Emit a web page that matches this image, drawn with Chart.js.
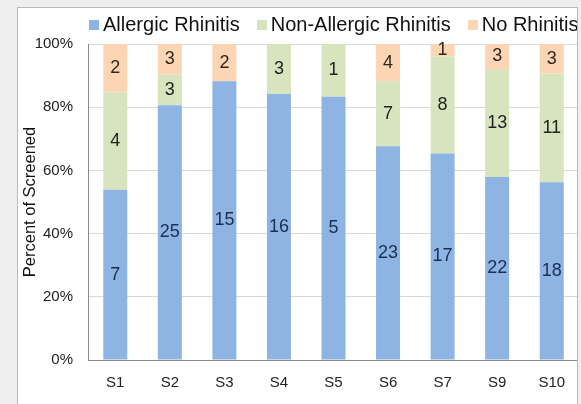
<!DOCTYPE html>
<html>
<head>
<meta charset="utf-8">
<script src="https://cdn.jsdelivr.net/npm/chart.js@4.4.0/dist/chart.umd.min.js"></script>
<style>
    html, body { margin: 0; padding: 0; }
    body { width: 581px; height: 404px; background: #efefef; position: relative; overflow: hidden; font-family: "Liberation Sans", Arial, sans-serif; }
    #panel { position: absolute; left: 17px; top: 7px; width: 559px; height: 420px; background: #fff; border: 1px solid #b9b9b9; overflow: hidden; }
    #chartWrap { position: absolute; left: -18px; top: -8px; width: 600px; height: 404px; }
    #legend { position: absolute; left: 71px; top: 5px; display: flex; align-items: center; white-space: nowrap; font-size: 20px; color: #111; }
    #legend .item { display: flex; align-items: center; margin-right: 17px; }
    #legend .box { width: 10px; height: 10px; margin-right: 4px; margin-top: 1px; }
</style>
</head>
<body>
<div id="panel">
    <div id="chartWrap">
        <canvas id="rhinitisChart" width="600" height="404"></canvas>
    </div>
    <div id="legend"></div>
</div>
<script>
// 데이터
var sites = ['S1', 'S2', 'S3', 'S4', 'S5', 'S6', 'S7', 'S9', 'S10'];
var allergic = [7, 25, 15, 16, 5, 23, 17, 22, 18];
var nonAllergic = [4, 3, 0, 3, 1, 7, 8, 13, 11];
var noRhinitis = [2, 3, 2, 0, 0, 4, 1, 3, 3];
var seriesNames = ['Allergic Rhinitis', 'Non-Allergic Rhinitis', 'No Rhinitis'];
var yTicks = [0, 20, 40, 60, 80, 100];

document.addEventListener("DOMContentLoaded", function() {
    var colors = ['#8db4e2', '#d7e4bd', '#fcd5b5'];
    var labelColors = ['#1b2f52', '#222222', '#33261c'];
    var counts = [allergic, nonAllergic, noRhinitis];

    // 합계 대비 퍼센트
    var totals = sites.map((s, i) => allergic[i] + nonAllergic[i] + noRhinitis[i]);
    var toPct = arr => arr.map((v, i) => v / totals[i] * 100);

    // 막대 안 숫자 표시
    var countLabels = {
        id: 'countLabels',
        afterDatasetsDraw: function(chart) {
            var ctx = chart.ctx;
            ctx.save();
            ctx.font = '18px "Liberation Sans", Arial, sans-serif';
            ctx.textAlign = 'center';
            ctx.textBaseline = 'middle';
            chart.data.datasets.forEach((ds, di) => {
                chart.getDatasetMeta(di).data.forEach((bar, i) => {
                    var n = ds.counts[i];
                    if (!n) return;
                    var c = bar.getCenterPoint();
                    ctx.fillStyle = labelColors[di];
                    ctx.fillText(n, c.x, c.y);
                });
            });
            ctx.restore();
        }
    };

    var ctx = document.getElementById('rhinitisChart').getContext('2d');
    var chart = new Chart(ctx, {
        type: 'bar',
        data: {
            labels: sites,
            datasets: counts.map((arr, k) => ({
                label: seriesNames[k],
                data: toPct(arr),
                counts: arr,
                backgroundColor: colors[k],
                barPercentage: 0.44,
                categoryPercentage: 1.0
            }))
        },
        options: {
            responsive: false,
            animation: false,
            devicePixelRatio: 1,
            layout: { padding: { left: 0, right: 21, top: 44, bottom: 0 } },
            scales: {
                x: {
                    stacked: true,
                    grid: { display: false },
                    border: { color: '#8a8a8a', width: 1 },
                    ticks: { color: '#222', font: { size: 15, family: '"Liberation Sans", Arial' }, padding: 6 },
                    afterFit: function(scale) { scale.height = 44; }
                },
                y: {
                    stacked: true,
                    min: 0,
                    max: 100,
                    afterBuildTicks: function(scale) { scale.ticks = yTicks.map(v => ({ value: v })); },
                    grid: { color: '#d9d9d9', drawTicks: false },
                    border: { color: '#8a8a8a', width: 1 },
                    ticks: {
                        color: '#222',
                        font: { size: 15, family: '"Liberation Sans", Arial' },
                        padding: 15,
                        callback: function(value) { return value + '%'; }
                    },
                    title: {
                        display: true,
                        text: 'Percent of Screened',
                        color: '#111',
                        font: { size: 16.5, family: '"Liberation Sans", Arial' },
                        padding: { top: 21, bottom: 0 }
                    },
                    afterFit: function(scale) { scale.width = 88; }
                }
            },
            plugins: {
                legend: { display: false },
                tooltip: { enabled: false }
            }
        },
        plugins: [countLabels]
    });

    // 범례
    var legend = document.getElementById('legend');
    seriesNames.forEach((name, k) => {
        var item = document.createElement('div');
        item.className = 'item';
        item.innerHTML = '<span class="box" style="background:' + colors[k] + '"></span><span>' + name + '</span>';
        legend.appendChild(item);
    });
});
</script>
</body>
</html>
